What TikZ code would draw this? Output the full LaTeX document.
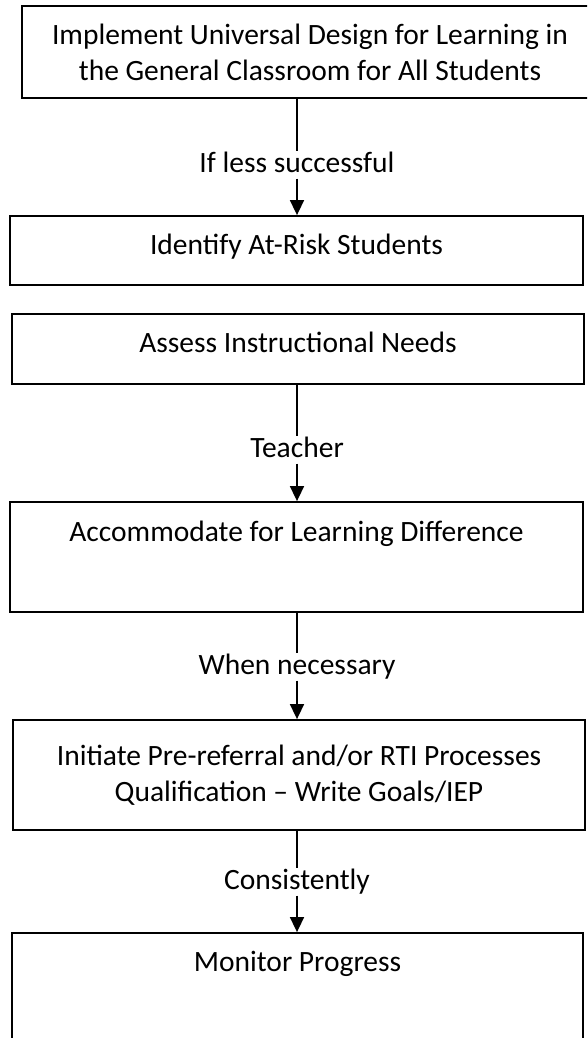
\documentclass[tikz,border=0pt]{standalone}
\usepackage{fontspec}
\setmainfont{Carlito}
\usetikzlibrary{arrows.meta}
\tikzset{
	stepbox/.style={rectangle, draw=black, line width=1.8pt, align=center, inner sep=0pt},
	link/.style={line width=1.6pt},
	flow/.style={link, -{Triangle[width=14pt,length=15pt]}},
	cond/.style={anchor=base, inner xsep=2pt, inner ysep=3pt, text height=18pt, text depth=3pt}
}
\begin{document}
\begin{tikzpicture}[x=1pt,y=-1pt,font=\fontsize{29.5}{36}\selectfont]
	\useasboundingbox (0,0) rectangle (587,1038);
	\clip (0,0) rectangle (587,1038);
	% the six steps
	\node[stepbox,
	minimum width = 576pt,
	minimum height = 92pt] (udl) at (310,52) {Implement Universal Design for Learning in\\the General Classroom for All Students};
	\node[stepbox, anchor=base,
	minimum width = 573pt,
	text height = 38.5pt, text depth = 30.5pt] (atrisk) at (296.5,254.5) {Identify At-Risk Students};
	\node[stepbox, anchor=base,
	minimum width = 572pt,
	text height = 38.5pt, text depth = 31.5pt] (needs) at (298,352.5) {Assess Instructional Needs};
	\node[stepbox, anchor=base,
	minimum width = 573pt,
	text height = 39.5pt, text depth = 70.5pt] (accom) at (296.5,541.5) {Accommodate for Learning Difference};
	\node[stepbox,
	minimum width = 572pt,
	minimum height = 110pt] (rti) at (299,775) {Initiate Pre-referral and/or RTI Processes\\Qualification -- Write Goals/IEP};
	\node[stepbox, anchor=base,
	minimum width = 571pt,
	text height = 38.5pt, text depth = 120pt] (monitor) at (297.5,971.5) {Monitor Progress};
	% the conditions on the links
	\node[cond] (less) at (297,172.5) {If less successful};
	\node[cond] (teacher) at (297,457.5) {Teacher};
	\node[cond] (needed) at (297,674.5) {When necessary};
	\node[cond] (always) at (297,889.5) {Consistently};
	% the links
	\draw[link] (udl.south -| less) -- (less.north);
	\draw[flow] (less.south) -- (less.south |- atrisk.north);
	\draw[link] (needs.south -| teacher) -- (teacher.north);
	\draw[flow] (teacher.south) -- (teacher.south |- accom.north);
	\draw[link] (accom.south -| needed) -- (needed.north);
	\draw[flow] (needed.south) -- (needed.south |- rti.north);
	\draw[link] (rti.south -| always) -- (always.north);
	\draw[flow] (always.south) -- (always.south |- monitor.north);
\end{tikzpicture}
\end{document}
